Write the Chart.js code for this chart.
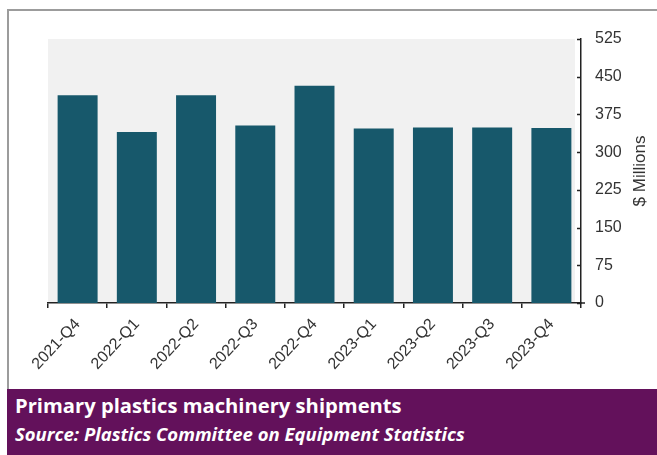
<!DOCTYPE html>
<html>
<head>
<meta charset="utf-8">
<script src="https://cdn.jsdelivr.net/npm/chart.js@4"></script>
<style>
  body { margin: 0; background: #fff; width: 657px; height: 455px; overflow: hidden; position: relative; }
  .frame { position: absolute; left: 7px; top: 9px; width: 660px; height: 390px; border-left: 2px solid #9c9c9c; border-top: 2px solid #9c9c9c; box-sizing: border-box; }
  #chart { position: absolute; left: 0; top: 0; }
  .banner { position: absolute; left: 7px; top: 389px; right: 0; height: 66px; background: #63115b; color: #fff; font-family: "Open Sans", Lato, sans-serif; font-weight: bold; }
  .banner div { position: absolute; left: 8px; white-space: nowrap; line-height: 1; }
  .banner .title { top: 6px; font-size: 20.2px; }
  .banner .source { top: 36px; font-size: 18.5px; font-style: italic; }
</style>
</head>
<body>
<div class="frame"></div>
<canvas id="chart" width="657" height="388"></canvas>
<div class="banner">
  <div class="title">Primary plastics machinery shipments</div>
  <div class="source">Source: Plastics Committee on Equipment Statistics</div>
</div>
<script>
const quarters = ['2021-Q4', '2022-Q1', '2022-Q2', '2022-Q3', '2022-Q4', '2023-Q1', '2023-Q2', '2023-Q3', '2023-Q4'];
const shipments = [413, 340, 413, 353, 432, 347, 349, 349, 348];
const yTicks = [0, 75, 150, 225, 300, 375, 450, 525];

const axisColor = '#222';
const fontFamily = '"Liberation Sans", Arial, sans-serif';

// grey plot background, inward ticks on the right axis and the rotated axis title
const plotDecor = {
    id: 'plotDecor',
    beforeDraw(chart) {
        const { ctx, chartArea } = chart;
        ctx.save();
        ctx.fillStyle = '#f1f1f1';
        ctx.fillRect(chartArea.left, chartArea.top, chartArea.right - chartArea.left - 6, chartArea.bottom - chartArea.top);
        ctx.restore();
    },
    afterDraw(chart) {
        const { ctx, chartArea } = chart;
        const y = chart.scales.y;
        ctx.save();
        ctx.strokeStyle = axisColor;
        ctx.lineWidth = 1.5;
        ctx.beginPath();
        yTicks.forEach(v => {
            const py = Math.round(y.getPixelForValue(v)) + 0.5;
            ctx.moveTo(chartArea.right - 4, py);
            ctx.lineTo(chartArea.right, py);
        });
        // x axis runs a little past the right axis
        const base = y.getPixelForValue(0);
        ctx.moveTo(chartArea.right, base);
        ctx.lineTo(chartArea.right + 4, base);
        ctx.stroke();

        ctx.fillStyle = '#333';
        ctx.font = '17px ' + fontFamily;
        ctx.textAlign = 'center';
        ctx.textBaseline = 'middle';
        ctx.translate(640, (chartArea.top + chartArea.bottom) / 2);
        ctx.rotate(-Math.PI / 2);
        ctx.fillText('$ Millions', 0, 0);
        ctx.restore();
    }
};

new Chart(document.getElementById('chart'), {
    type: 'bar',
    data: {
        labels: quarters,
        datasets: [{
            data: shipments,
            backgroundColor: '#17586b',
            barPercentage: 0.75,
            categoryPercentage: 0.9
        }]
    },
    options: {
        responsive: false,
        animation: false,
        devicePixelRatio: 1,
        layout: { padding: { left: 48, top: 39, right: 0, bottom: 0 } },
        plugins: { legend: { display: false }, tooltip: { enabled: false } },
        scales: {
            x: {
                grid: { display: true, drawOnChartArea: false, drawTicks: true, tickLength: 5, color: axisColor, lineWidth: 1.5 },
                border: { display: true, color: axisColor, width: 1.5 },
                ticks: { font: { family: fontFamily, size: 16 }, color: '#333', minRotation: 47, maxRotation: 47, padding: 7 },
                afterFit(scale) { scale.height = 85; }
            },
            y: {
                position: 'right',
                min: 0,
                max: 525,
                afterBuildTicks(scale) { scale.ticks = yTicks.map(v => ({ value: v })); },
                grid: { display: false },
                border: { display: true, color: axisColor, width: 1.5 },
                ticks: { font: { family: fontFamily, size: 16 }, color: '#333', padding: 6 },
                afterFit(scale) { scale.width = 76; }
            }
        }
    },
    plugins: [plotDecor]
});
</script>
</body>
</html>
